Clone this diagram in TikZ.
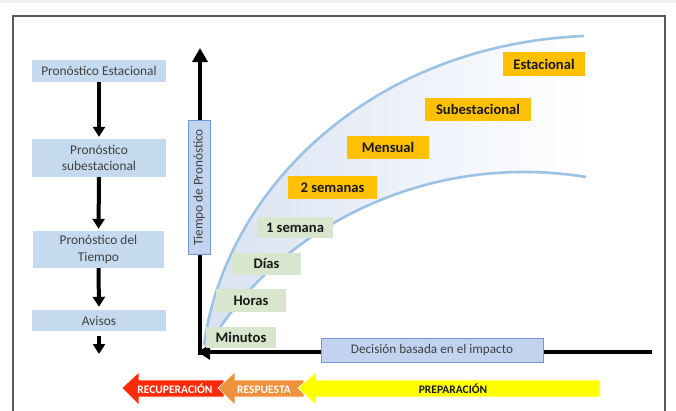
\documentclass[tikz,border=0pt]{standalone}
\usepackage{fontspec}
\setmainfont{Carlito}
\usetikzlibrary{arrows.meta}
\definecolor{boxblue}{HTML}{C5DAEF}
\definecolor{axisfill}{HTML}{C2D3F0}
\definecolor{axisline}{HTML}{7397D6}
\definecolor{lblorange}{HTML}{FFC000}
\definecolor{lblgreen}{HTML}{D7E6CC}
\definecolor{bandline}{HTML}{9CC2E5}
\definecolor{bandfill}{HTML}{D9E2F2}
\definecolor{arrred}{HTML}{FF2A0A}
\definecolor{arrorange}{HTML}{F0913D}
\definecolor{arryellow}{HTML}{FFFF00}
\definecolor{txtgray}{HTML}{404040}
\definecolor{framegray}{HTML}{5A5A5A}
\definecolor{topgray}{HTML}{F3F3EE}
\begin{document}
\begin{tikzpicture}[x=1pt,y=-1pt,
  leftbox/.style={fill=boxblue, text=txtgray, inner sep=0pt, align=center,
    font=\fontsize{13.4}{16.5}\selectfont},
  axisbox/.style={fill=axisfill, draw=axisline, line width=0.8pt, text=txtgray,
    inner sep=0pt, font=\fontsize{13.2}{15}\selectfont},
  olabel/.style={fill=lblorange, text=black!90, inner sep=0pt,
    font=\fontsize{14.6}{17}\selectfont\bfseries},
  glabel/.style={fill=lblgreen, text=black!90, inner sep=0pt,
    font=\fontsize{14.6}{17}\selectfont\bfseries},
  larrow/.style={line width=4pt, -{Triangle[length=10pt,width=12pt]}},
  axarrow/.style={line width=4.5pt, -{Triangle[length=14pt,width=15pt]}},
  band/.style={bandline, line width=2.6pt},
  phase/.style={inner sep=0pt, font=\fontsize{11.5}{13}\selectfont\bfseries}
]
\useasboundingbox (0,0) rectangle (676,410);
\fill[white] (0,0) rectangle (676,410);
\fill[topgray] (0,0) rectangle (676,3);
% frame
\draw[framegray, line width=1.6pt] (13,415) -- (13,16) -- (665,16) -- (665,415);

% band between the two curves
\shade[left color=bandfill, right color=white]
  (204,345) .. controls (225,190) and (370,45) .. (584,36)
  -- (586,177) .. controls (420,150) and (270,235) .. (207,349) -- cycle;
\draw[band] (204,345) .. controls (225,190) and (370,45) .. (584,36);
\draw[band] (207,349) .. controls (270,235) and (420,150) .. (586,177);

% left column
\node[leftbox, minimum width=134pt, minimum height=22pt] (e1) at (99,71) {Pronóstico Estacional};
\node[leftbox, minimum width=134pt, minimum height=38pt] (e2) at (99,158) {Pronóstico\\subestacional};
\node[leftbox, minimum width=131pt, minimum height=37pt] (e3) at (98.5,249.5) {Pronóstico del\\Tiempo};
\node[leftbox, minimum width=134pt, minimum height=21pt] (e4) at (99,320.5) {Avisos};
\coordinate (e5) at (99,354);
\draw[larrow, shorten >=2pt] (e1.south) -- (e2.north);
\draw[larrow, shorten >=2pt] (e2.south) -- (e3.north);
\draw[larrow, shorten >=3pt] (e3.south) -- (e4.north);
\draw[larrow, shorten <=5pt] (e4.south) -- (e5);

% axes
\coordinate (o) at (200,354);
\coordinate (ytop) at (200,48);
\coordinate (xend) at (652,352);
\draw[axarrow] ([yshift=-1pt]o) -- (ytop);
\draw[line width=4.5pt, -{Triangle[length=12pt,width=15pt]}] (xend) -- (198,352);
\node[axisbox, rotate=90, minimum width=134pt, minimum height=22pt] (ylab) at (199,187.5) {Tiempo de Pronóstico};
\node[axisbox, minimum width=222pt, minimum height=24pt] (xlab) at (432,350) {Decisión basada en el impacto};

% time-scale labels
\node[olabel, minimum width=82pt, minimum height=24pt] (l1) at (544,64) {Estacional};
\node[olabel, minimum width=106pt, minimum height=23pt] (l2) at (478,109.5) {Subestacional};
\node[olabel, minimum width=82pt, minimum height=23pt] (l3) at (388,147.5) {Mensual};
\node[olabel, minimum width=89pt, minimum height=23pt] (l4) at (332.5,187.5) {2 semanas};
\node[glabel, minimum width=76pt, minimum height=21pt] (l5) at (295,227.5) {1 semana};
\node[glabel, minimum width=69pt, minimum height=22pt] (l6) at (266.5,264) {Días};
\node[glabel, minimum width=70pt, minimum height=23pt] (l7) at (251,300.5) {Horas};
\node[glabel, minimum width=70pt, minimum height=21pt] (l8) at (241,337.5) {Minutos};

% phase arrows
\fill[arrred, draw=white, line width=0.6pt]
  (122,388) -- (139,372) -- (139,380) -- (224,380) -- (224,397) -- (139,397) -- (139,405) -- cycle;
\fill[arrorange, draw=white, line width=0.6pt]
  (218,388) -- (235,372) -- (235,380) -- (304,380) -- (304,397) -- (235,397) -- (235,405) -- cycle;
\fill[arryellow, draw=white, line width=0.6pt]
  (298,388) -- (316,372) -- (316,380) -- (600,380) -- (600,397) -- (316,397) -- (316,405) -- cycle;
\node[phase, text=white] (p1) at (175,389) {RECUPERACIÓN};
\node[phase, text=white] (p2) at (264,389.5) {RESPUESTA};
\node[phase, text=black!90] (p3) at (453,389) {PREPARACIÓN};
\end{tikzpicture}
\end{document}
